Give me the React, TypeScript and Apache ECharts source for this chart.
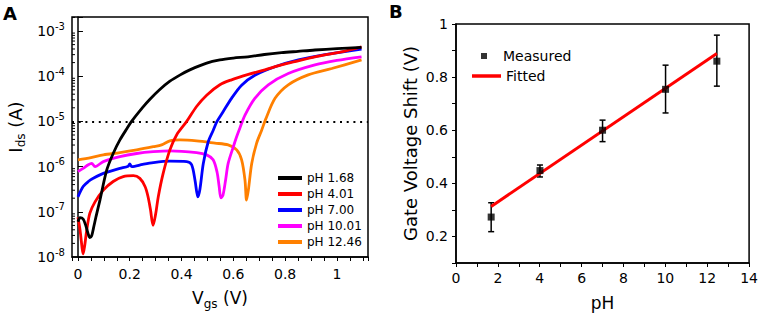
import React, { useEffect, useRef } from "react";
import * as echarts from "echarts";

const FONT = "'DejaVu Sans', 'Liberation Sans', Arial, sans-serif";

// Panel A: transfer curves, [Vgs (V), log10(Ids / A)]
const seriesNamesA = ["pH 1.68", "pH 4.01", "pH 7.00", "pH 10.01", "pH 12.46"];
const colorsA = ["#000000", "#ff0000", "#0000ff", "#ff00ff", "#ff8000"];

const curvePH168 = [
  [0.0, -7.22], [0.008, -7.13], [0.02, -7.16], [0.03, -7.3], [0.04, -7.5], [0.046, -7.57],
  [0.053, -7.53], [0.06, -7.36], [0.07, -7.1], [0.085, -6.74], [0.111, -6.08], [0.136, -5.71],
  [0.162, -5.41], [0.19, -5.15], [0.207, -5.0], [0.25, -4.69], [0.278, -4.51], [0.315, -4.3],
  [0.355, -4.11], [0.395, -3.97], [0.432, -3.86], [0.497, -3.71], [0.548, -3.64], [0.6, -3.6],
  [0.656, -3.57], [0.72, -3.52], [0.786, -3.48], [0.85, -3.45], [0.915, -3.42], [1.0, -3.39],
  [1.095, -3.36],
];
const curvePH401 = [
  [0.0, -7.12], [0.008, -7.4], [0.016, -7.8], [0.02, -7.93], [0.026, -7.75], [0.034, -7.4],
  [0.046, -7.03], [0.066, -6.78], [0.098, -6.52], [0.136, -6.33], [0.175, -6.22], [0.214, -6.2],
  [0.239, -6.26], [0.259, -6.44], [0.27, -6.65], [0.28, -6.95], [0.29, -7.3], [0.3, -7.05],
  [0.31, -6.67], [0.329, -6.15], [0.355, -5.63], [0.381, -5.3], [0.42, -5.0], [0.458, -4.67],
  [0.497, -4.42], [0.548, -4.19], [0.593, -4.08], [0.658, -3.96], [0.722, -3.86], [0.786, -3.75],
  [0.85, -3.66], [0.915, -3.57], [1.018, -3.46], [1.095, -3.35],
];
const curvePH700 = [
  [0.0, -6.67], [0.02, -6.44], [0.04, -6.33], [0.059, -6.26], [0.098, -6.15], [0.162, -6.04],
  [0.194, -5.99], [0.2, -5.94], [0.208, -6.0], [0.25, -5.95], [0.291, -5.91], [0.355, -5.88],
  [0.42, -5.89], [0.439, -5.96], [0.452, -6.3], [0.463, -6.67], [0.471, -6.5], [0.484, -5.93],
  [0.503, -5.45], [0.522, -5.2], [0.537, -5.0], [0.561, -4.78], [0.593, -4.49], [0.632, -4.2],
  [0.683, -3.98], [0.761, -3.79], [0.851, -3.64], [0.954, -3.52], [1.095, -3.4],
];
const curvePH1001 = [
  [0.0, -6.11], [0.02, -6.04], [0.04, -5.96], [0.053, -5.93], [0.066, -6.0], [0.098, -5.89],
  [0.162, -5.78], [0.227, -5.71], [0.291, -5.67], [0.355, -5.65], [0.458, -5.69], [0.497, -5.74],
  [0.522, -5.85], [0.537, -6.12], [0.545, -6.43], [0.552, -6.69], [0.56, -6.63], [0.57, -6.3],
  [0.58, -5.93], [0.6, -5.56], [0.612, -5.35], [0.625, -5.15], [0.645, -4.86], [0.683, -4.49],
  [0.735, -4.19], [0.812, -3.94], [0.915, -3.75], [1.0, -3.65], [1.095, -3.57],
];
const curvePH1246 = [
  [0.0, -5.85], [0.05, -5.8], [0.098, -5.74], [0.162, -5.69], [0.227, -5.63], [0.291, -5.56],
  [0.323, -5.52], [0.355, -5.43], [0.394, -5.41], [0.458, -5.43], [0.529, -5.48], [0.58, -5.52],
  [0.613, -5.63], [0.632, -5.85], [0.645, -6.3], [0.651, -6.74], [0.658, -6.52], [0.671, -5.93],
  [0.69, -5.48], [0.709, -5.2], [0.725, -4.95], [0.761, -4.49], [0.812, -4.19], [0.889, -3.97],
  [0.98, -3.83], [1.095, -3.64],
];
const curvesA = [curvePH168, curvePH401, curvePH700, curvePH1001, curvePH1246];
const thresholdLogI = -5; // dotted line at 10^-5 A
const logDecades = [-8, -7, -6, -5, -4, -3];
const minorMultipliers = [2, 3, 4, 5, 6, 7, 8, 9];

// Panel B: gate voltage shift vs pH
const phValues = [1.68, 4.01, 7.0, 10.01, 12.46];
const shiftValues = [0.273, 0.448, 0.6, 0.754, 0.86];
const errLow = [0.218, 0.424, 0.557, 0.665, 0.766];
const errHigh = [0.327, 0.469, 0.638, 0.845, 0.958];
const fitX = [1.68, 12.46];
const fitY = [0.313, 0.889];

const A_XMIN = -0.023;
const A_XMAX = 1.12;
const A_YMIN = -8;
const A_YMAX = -2.69;

const nearMultiple = (v: number, step: number) =>
  Math.abs(v / step - Math.round(v / step)) < 1e-6;

export default function App() {
  const ref = useRef<HTMLDivElement>(null);
  useEffect(() => {
    const chart = echarts.init(ref.current!, null, { renderer: "svg" });

    const minorTicks: number[][] = [];
    logDecades.forEach((d) =>
      minorMultipliers.forEach((m) => {
        const v = d + Math.log10(m);
        if (v < A_YMAX) minorTicks.push([A_XMIN, v]);
      })
    );

    const axisLine = { show: true, lineStyle: { color: "#000", width: 1.5 } };
    const labelBase = { color: "#000", fontFamily: FONT, fontSize: 14 };

    const option: any = {
      animation: false,
      textStyle: { fontFamily: FONT },
      grid: [
        { left: 72, top: 17, width: 296, height: 240, show: true, borderColor: "#000", borderWidth: 1.5 },
        { left: 456, top: 24, width: 295, height: 239, show: true, borderColor: "#000", borderWidth: 1.5 },
      ],
      xAxis: [
        {
          gridIndex: 0,
          type: "value",
          min: A_XMIN,
          max: A_XMAX,
          splitNumber: 23,
          minInterval: 0.05,
          maxInterval: 0.05,
          axisLine,
          axisTick: { show: true, length: 4, lineStyle: { color: "#000", width: 1 } },
          splitLine: { show: false },
          axisLabel: {
            ...labelBase,
            margin: 10,
            formatter: (v: number) => (v >= -1e-9 && nearMultiple(v, 0.2) ? String(Number(v.toFixed(1))) : ""),
          },
          name: "V{sub|gs} (V)",
          nameLocation: "middle",
          nameGap: 26,
          nameTextStyle: {
            color: "#000",
            fontFamily: FONT,
            fontSize: 17,
            lineHeight: 24,
            rich: { sub: { fontFamily: FONT, fontSize: 12, color: "#000", lineHeight: 14, verticalAlign: "bottom" } },
          },
        },
        {
          gridIndex: 1,
          type: "value",
          min: 0,
          max: 14,
          interval: 1,
          axisLine,
          axisTick: { show: true, length: 4, lineStyle: { color: "#000", width: 1 } },
          splitLine: { show: false },
          axisLabel: {
            ...labelBase,
            margin: 8,
            formatter: (v: number) => (Math.round(v) % 2 === 0 ? String(Math.round(v)) : ""),
          },
          name: "pH",
          nameLocation: "middle",
          nameGap: 31,
          nameTextStyle: { color: "#000", fontFamily: FONT, fontSize: 17 },
        },
      ],
      yAxis: [
        {
          gridIndex: 0,
          type: "value",
          min: A_YMIN,
          max: A_YMAX,
          interval: 1,
          axisLine,
          axisTick: { show: true, inside: true, length: 5, lineStyle: { color: "#000", width: 1 } },
          splitLine: { show: false },
          axisLabel: {
            color: "#000",
            margin: 7,
            formatter: (v: number) => (nearMultiple(v, 1) ? `{b|10}{s|${Math.round(v)}}` : ""),
            rich: {
              b: { fontFamily: FONT, fontSize: 14, color: "#000", lineHeight: 20, verticalAlign: "middle" },
              s: { fontFamily: FONT, fontSize: 10, color: "#000", lineHeight: 10, verticalAlign: "top" },
            },
          },
          name: "I{sub|ds} (A)",
          nameLocation: "middle",
          nameGap: 45,
          nameTextStyle: {
            color: "#000",
            fontFamily: FONT,
            fontSize: 18,
            lineHeight: 24,
            padding: [0, 0, 0, 20],
            rich: { sub: { fontFamily: FONT, fontSize: 12, color: "#000", lineHeight: 14, verticalAlign: "bottom" } },
          },
        },
        {
          gridIndex: 1,
          type: "value",
          min: 0.1,
          max: 1.0,
          interval: 0.1,
          axisLine,
          axisTick: { show: true, length: 4, lineStyle: { color: "#000", width: 1 } },
          splitLine: { show: false },
          axisLabel: {
            ...labelBase,
            margin: 8,
            formatter: (v: number) => {
              const r = Math.round(v * 10);
              if (r % 2 !== 0) return "";
              return r === 10 ? "1" : (r / 10).toFixed(1);
            },
          },
          name: "Gate Voltage Shift (V)",
          nameLocation: "middle",
          nameGap: 37,
          nameTextStyle: { color: "#000", fontFamily: FONT, fontSize: 18 },
        },
      ],
      legend: [
        {
          data: seriesNamesA,
          orient: "vertical",
          left: 273,
          top: 166,
          icon: "rect",
          itemWidth: 24,
          itemHeight: 4,
          itemGap: 2,
          textStyle: { color: "#000", fontFamily: FONT, fontSize: 12, lineHeight: 14 },
        },
        {
          data: ["Measured"],
          left: 476,
          top: 43,
          icon: "rect",
          itemWidth: 6,
          itemHeight: 6,
          textStyle: { color: "#000", fontFamily: FONT, fontSize: 14, lineHeight: 16, padding: [0, 0, 0, 11] },
        },
        {
          data: ["Fitted"],
          left: 467,
          top: 63,
          icon: "rect",
          itemWidth: 29,
          itemHeight: 3.5,
          textStyle: { color: "#000", fontFamily: FONT, fontSize: 14, lineHeight: 16 },
        },
      ],
      graphic: [
        { type: "text", left: 3, top: 4, style: { text: "A", fontFamily: FONT, fontSize: 18, fontWeight: "bold", fill: "#000" } },
        { type: "text", left: 389, top: 2, style: { text: "B", fontFamily: FONT, fontSize: 18, fontWeight: "bold", fill: "#000" } },
      ],
      series: [
        ...curvesA.map((c, i) => ({
          name: seriesNamesA[i],
          type: "line",
          xAxisIndex: 0,
          yAxisIndex: 0,
          data: c,
          showSymbol: false,
          symbol: "none",
          smooth: 0.3,
          color: colorsA[i],
          lineStyle: { color: colorsA[i], width: 2.8 },
          z: 2 + (4 - i),
          markLine:
            i === 0
              ? {
                  silent: true,
                  symbol: ["none", "none"],
                  label: { show: false },
                  lineStyle: { color: "#000", width: 2, type: [2, 4.7] },
                  data: [{ yAxis: thresholdLogI }],
                }
              : undefined,
        })),
        {
          type: "custom",
          xAxisIndex: 0,
          yAxisIndex: 0,
          silent: true,
          data: minorTicks,
          encode: { x: 0, y: 1 },
          renderItem: (_p: any, api: any) => {
            const pt = api.coord([api.value(0), api.value(1)]);
            return {
              type: "line",
              shape: { x1: pt[0], y1: pt[1], x2: pt[0] + 3, y2: pt[1] },
              style: { stroke: "#000", lineWidth: 1 },
            };
          },
        },
        {
          name: "Errors",
          type: "custom",
          xAxisIndex: 1,
          yAxisIndex: 1,
          silent: true,
          data: phValues.map((x, i) => [x, errLow[i], errHigh[i]]),
          encode: { x: 0, y: [1, 2] },
          z: 3,
          renderItem: (_p: any, api: any) => {
            const lo = api.coord([api.value(0), api.value(1)]);
            const hi = api.coord([api.value(0), api.value(2)]);
            const w = 3;
            const st = { stroke: "#000", lineWidth: 1.5 };
            return {
              type: "group",
              children: [
                { type: "line", shape: { x1: lo[0], y1: lo[1], x2: hi[0], y2: hi[1] }, style: st },
                { type: "line", shape: { x1: lo[0] - w, y1: lo[1], x2: lo[0] + w, y2: lo[1] }, style: st },
                { type: "line", shape: { x1: hi[0] - w, y1: hi[1], x2: hi[0] + w, y2: hi[1] }, style: st },
              ],
            };
          },
        },
        {
          name: "Fitted",
          type: "line",
          xAxisIndex: 1,
          yAxisIndex: 1,
          data: fitX.map((x, i) => [x, fitY[i]]),
          showSymbol: false,
          symbol: "none",
          color: "#ff0000",
          lineStyle: { color: "#ff0000", width: 3 },
          z: 4,
        },
        {
          name: "Measured",
          type: "scatter",
          xAxisIndex: 1,
          yAxisIndex: 1,
          data: phValues.map((x, i) => [x, shiftValues[i]]),
          symbol: "rect",
          symbolSize: 7,
          color: "#000",
          itemStyle: { color: "#000" },
          z: 5,
        },
      ],
    };

    chart.setOption(option);
    return () => chart.dispose();
  }, []);
  return <div ref={ref} style={{ position: "absolute", left: 0, top: 0, width: 761, height: 317 }} />;
}
